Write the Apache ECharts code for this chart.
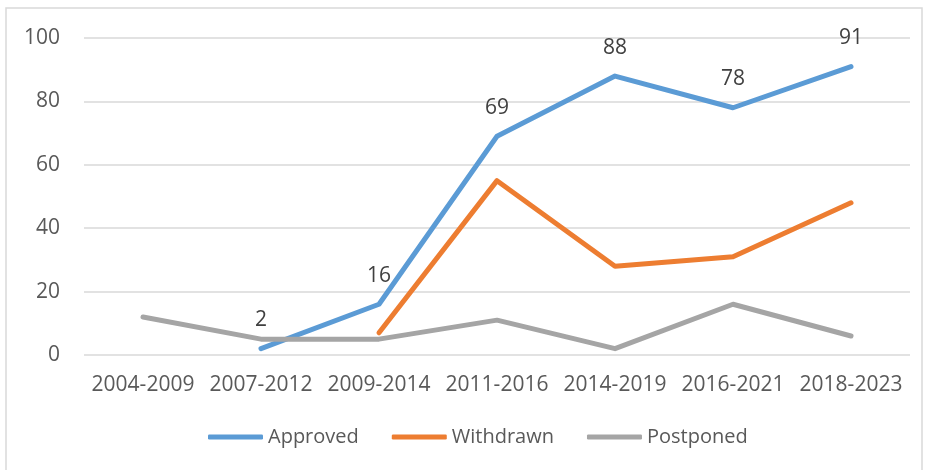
<!DOCTYPE html>
<html>
<head>
<meta charset="utf-8">
<script src="https://cdn.jsdelivr.net/npm/echarts@6/dist/echarts.min.js"></script>
<style>
  html, body { margin: 0; padding: 0; background: #fff; }
  #chart { width: 925px; height: 470px; }
</style>
</head>
<body>
<div id="chart"></div>
<script>
const periods = ['2004-2009', '2007-2012', '2009-2014', '2011-2016', '2014-2019', '2016-2021', '2018-2023'];
const approved = [null, 2, 16, 69, 88, 78, 91];
const withdrawn = [null, null, 7, 55, 28, 31, 48];
const postponed = [12, 5, 5, 11, 2, 16, 6];
const yTicks = [0, 20, 40, 60, 80, 100];

const font = '"Open Sans", "Liberation Sans", sans-serif';

let myChart = echarts.init(document.getElementById('chart'));

function lineSeries(name, data, color) {
    return {
        name: name,
        type: 'line',
        data: data,
        symbol: 'circle',
        symbolSize: 0,
        showSymbol: true,
        connectNulls: false,
        lineStyle: { width: 5, color: color, cap: 'round', join: 'round' },
        itemStyle: { color: color }
    };
}

let approvedSeries = lineSeries('Approved', approved, '#5B9BD5');
approvedSeries.label = {
    show: true,
    position: 'top',
    distance: 18,
    color: '#404040',
    fontFamily: font,
    fontSize: 21
};

let option = {
    animation: false,
    backgroundColor: '#fff',
    graphic: [{
        type: 'rect',
        shape: { x: 6, y: 8, width: 916, height: 480 },
        style: { fill: 'none', stroke: '#D9D9D9', lineWidth: 1.5 },
        silent: true
    }],
    grid: {
        left: 84,
        right: 15,
        top: 38,
        bottom: 115
    },
    xAxis: {
        type: 'category',
        data: periods,
        boundaryGap: true,
        axisLine: { show: false },
        axisTick: { show: false },
        axisLabel: {
            interval: 0,
            color: '#595959',
            fontFamily: font,
            fontSize: 21,
            margin: 20
        }
    },
    yAxis: {
        type: 'value',
        min: yTicks[0],
        max: yTicks[yTicks.length - 1],
        interval: 20,
        axisLine: { show: false },
        axisTick: { show: false },
        axisLabel: {
            color: '#595959',
            fontFamily: font,
            fontSize: 21,
            margin: 24
        },
        splitLine: { lineStyle: { color: '#D9D9D9', width: 1.5 } }
    },
    legend: {
        bottom: 18,
        left: 203,
        itemWidth: 55,
        itemHeight: 5,
        itemGap: 33,
        icon: 'roundRect',
        textStyle: {
            color: '#595959',
            fontFamily: font,
            fontSize: 20
        },
        data: ['Approved', 'Withdrawn', 'Postponed']
    },
    series: [
        approvedSeries,
        lineSeries('Withdrawn', withdrawn, '#ED7D31'),
        lineSeries('Postponed', postponed, '#A5A5A5')
    ]
};
myChart.setOption(option);
</script>
</body>
</html>
